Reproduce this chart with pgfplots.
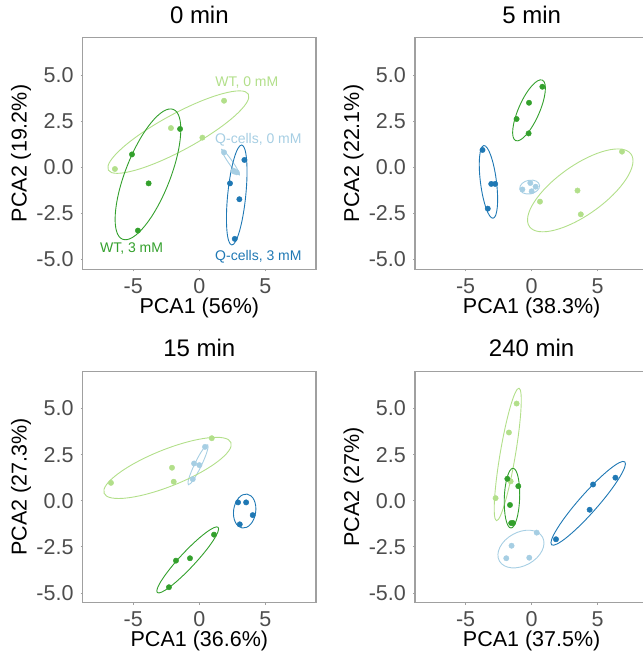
\documentclass[border=0pt]{standalone}
\usepackage{pgfplots}
\pgfplotsset{compat=1.18}
\usepackage{fontspec}
\setmainfont{Liberation Sans}
\definecolor{lgreen}{HTML}{B2DF8A}
\definecolor{dgreen}{HTML}{33A02C}
\definecolor{lblue}{HTML}{A6CEE3}
\definecolor{dblue}{HTML}{1F78B4}
\definecolor{ticktext}{HTML}{4D4D4D}
\definecolor{bordergrey}{HTML}{A0A0A0}
% x unit = 233.3pt/17.66, y unit = 231.6pt/12.56
\newcommand{\confell}[7]{\pgfplotsextra{\begin{pgfscope}\pgfsetlinewidth{0.9pt}\pgfsetstrokecolor{#1}%
  \pgfpathellipse{\pgfplotspointaxisxy{#2}{#3}}{\pgfpoint{#4*13.2106pt}{#5*18.4395pt}}{\pgfpoint{#6*13.2106pt}{#7*18.4395pt}}%
  \pgfusepath{stroke}\end{pgfscope}}}
\pgfplotsset{pcastyle/.style={
  width=233.3pt, height=231.6pt, scale only axis, anchor=south west,
  xmin=-8.83, xmax=8.83, ymin=-5.53, ymax=7.03,
  xtick={-5,0,5}, xticklabels={-5,0,5},
  ytick={-5,-2.5,0,2.5,5}, yticklabels={-5.0,-2.5,0.0,2.5,5.0},
  xtick pos=bottom, ytick pos=left,
  axis line style={bordergrey, line width=1.1pt},
  tick style={bordergrey, line width=0.8pt},
  tick align=outside, major tick length=2pt,
  tick label style={font=\fontsize{21.5}{24}\selectfont, text=ticktext},
  yticklabel style={inner sep=0pt, xshift=-7pt},
  xticklabel style={inner sep=0pt, yshift=-7pt},
  xlabel style={font=\fontsize{21.5}{24}\selectfont, at={(axis description cs:0.5,-0.19)}, anchor=base, inner sep=0pt},
  ylabel style={font=\fontsize{21.5}{24}\selectfont, at={(axis description cs:-0.24,0.5)}, anchor=base, inner sep=0pt},
  title style={font=\fontsize{24}{28}\selectfont, at={(axis description cs:0.5,1.0363)}, anchor=base, yshift=0pt, inner sep=0pt},
  pts/.style={only marks, mark=*, mark size=2.7pt, color=##1, mark options={fill=##1, draw=##1}},
}}
\begin{document}
\begin{tikzpicture}
% ---------- 0 min ----------
\begin{axis}[pcastyle, at={(82.7pt,387.7pt)}, title={0 min}, xlabel={PCA1 (56\%)}, ylabel={PCA2 (19.2\%)}]
\addplot[pts=lblue] coordinates {(1.87,0.81) (2.58,-0.18) (2.65,-0.23) (2.83,-0.27)};
\addplot[pts=dblue] coordinates {(3.41,0.40) (2.32,-0.87) (3.03,-1.73) (2.68,-3.88)};
\addplot[pts=lgreen] coordinates {(-6.39,-0.09) (-2.15,2.13) (0.23,1.61) (1.87,3.61)};
\addplot[pts=dgreen] coordinates {(-5.10,0.70) (-3.84,-0.87) (-1.46,2.08) (-4.65,-3.43)};
\confell{lblue}{2.36}{0.28}{0.67}{-0.69}{0.125}{0.061}
\confell{dblue}{2.83}{-1.50}{0.38}{2.71}{0.68}{-0.05}
\confell{lgreen}{-1.59}{1.91}{5.30}{2.06}{0.66}{-0.87}
\confell{dgreen}{-3.89}{-0.38}{1.92}{3.52}{1.58}{-0.44}
\node[text=lgreen, font=\fontsize{14}{16}\selectfont] at (axis cs:3.59,4.58) {WT, 0 mM};
\node[text=lblue, font=\fontsize{14}{16}\selectfont] at (axis cs:4.47,1.48) {Q-cells, 0 mM};
\node[text=dgreen, font=\fontsize{14}{16}\selectfont] at (axis cs:-5.13,-4.39) {WT, 3 mM};
\node[text=dblue, font=\fontsize{14}{16}\selectfont] at (axis cs:4.47,-4.84) {Q-cells, 3 mM};
\end{axis}
% ---------- 5 min ----------
\begin{axis}[pcastyle, at={(415pt,387.7pt)}, title={5 min}, xlabel={PCA1 (38.3\%)}, ylabel={PCA2 (22.1\%)}]
\addplot[pts=lblue] coordinates {(-0.70,-1.20) (-0.10,-0.85) (0.30,-1.05) (0.0,-1.30)};
\addplot[pts=dblue] coordinates {(-3.72,0.94) (-3.06,-0.90) (-2.76,-0.90) (-3.32,-2.24)};
\addplot[pts=lgreen] coordinates {(6.84,0.85) (3.47,-1.26) (0.63,-1.86) (3.72,-2.55)};
\addplot[pts=dgreen] coordinates {(0.81,4.37) (-0.20,3.50) (-1.14,2.62) (-0.23,1.84)};
\confell{lblue}{-0.15}{-1.07}{0.75}{0.08}{-0.04}{0.37}
\confell{dblue}{-3.27}{-0.79}{-0.35}{1.97}{0.60}{0.055}
\confell{lgreen}{3.68}{-1.25}{3.84}{1.97}{1.09}{-1.08}
\confell{dgreen}{-0.20}{3.09}{1.01}{1.64}{0.72}{-0.23}
\end{axis}
% ---------- 15 min ----------
\begin{axis}[pcastyle, at={(82.7pt,54.3pt)}, title={15 min}, xlabel={PCA1 (36.6\%)}, ylabel={PCA2 (27.3\%)}]
\addplot[pts=lblue] coordinates {(-0.50,1.17) (-0.40,2.02) (0.0,1.93) (0.43,2.92)};
\addplot[pts=dblue] coordinates {(2.93,-0.09) (3.54,-0.09) (4.04,-0.78) (3.06,-1.28)};
\addplot[pts=lgreen] coordinates {(-6.69,0.97) (-2.07,1.79) (-1.94,1.03) (0.94,3.39)};
\addplot[pts=dgreen] coordinates {(1.11,-1.84) (-0.71,-3.12) (-1.77,-3.25) (-2.30,-4.69)};
\confell{lblue}{-0.10}{1.95}{0.73}{1.08}{0.23}{-0.08}
\confell{dblue}{3.43}{-0.56}{0.18}{0.92}{0.83}{-0.08}
\confell{lgreen}{-2.41}{1.78}{4.80}{1.38}{0.52}{-0.92}
\confell{dgreen}{-0.88}{-3.21}{2.30}{1.77}{0.43}{-0.28}
\end{axis}
% ---------- 240 min ----------
\begin{axis}[pcastyle, at={(415pt,54.3pt)}, title={240 min}, xlabel={PCA1 (37.5\%)}, ylabel={PCA2 (27\%)}]
\addplot[pts=lblue] coordinates {(0.38,-1.73) (-1.52,-2.44) (-1.92,-3.12) (-0.18,-3.09)};
\addplot[pts=dblue] coordinates {(6.34,1.25) (4.65,0.88) (4.39,-0.49) (1.84,-2.09)};
\addplot[pts=lgreen] coordinates {(-1.14,5.27) (-1.72,3.70) (-1.59,1.05) (-2.73,0.14)};
\addplot[pts=dgreen] coordinates {(-1.84,1.19) (-1.01,0.79) (-1.64,-0.23) (-1.41,-1.21) (-1.55,-1.21)};
\confell{lblue}{-0.81}{-2.62}{1.63}{0.65}{0.62}{-0.79}
\confell{dblue}{4.28}{-0.14}{2.77}{2.25}{0.53}{-0.33}
\confell{lgreen}{-1.81}{2.51}{0.85}{3.59}{0.57}{-0.07}
\confell{dgreen}{-1.49}{0.14}{0.08}{1.62}{0.58}{-0.01}
\end{axis}
\pgfresetboundingbox
\path (0pt,0pt) rectangle (643pt,657pt);
\end{tikzpicture}
\end{document}
